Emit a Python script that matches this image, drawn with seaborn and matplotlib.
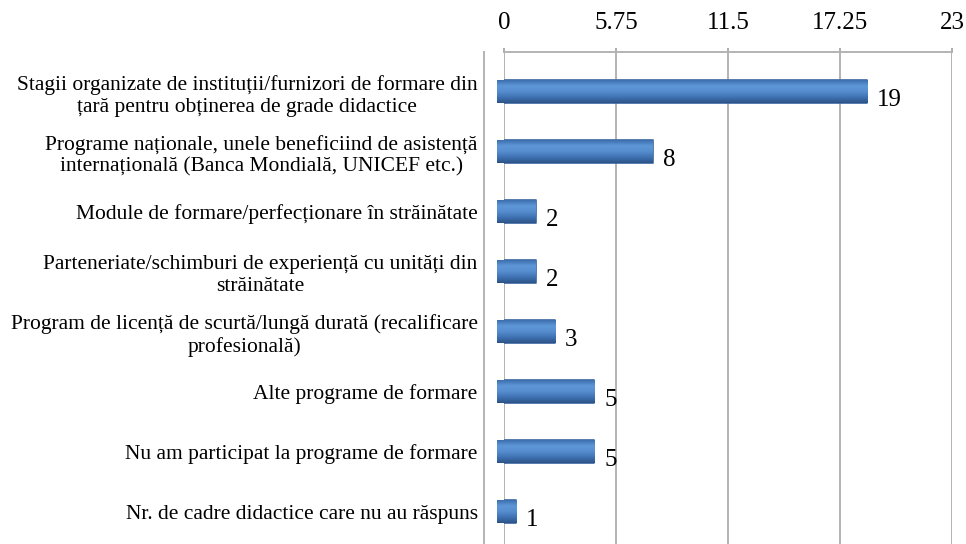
import pandas as pd
import seaborn as sns
import matplotlib.pyplot as plt
import matplotlib.transforms as mtransforms
from matplotlib.colors import LinearSegmentedColormap
import numpy as np

# Chart data
categories = [
    "Stagii organizate de instituții/furnizori de formare din\nțară pentru obținerea de grade didactice",
    "Programe naționale, unele beneficiind de asistență\ninternațională (Banca Mondială, UNICEF etc.)",
    "Module de formare/perfecționare în străinătate",
    "Parteneriate/schimburi de experiență cu unități din\nstrăinătate",
    "Program de licență de scurtă/lungă durată (recalificare\nprofesională)",
    "Alte programe de formare",
    "Nu am participat la programe de formare",
    "Nr. de cadre didactice care nu au răspuns",
]
values = [19, 8, 2, 2, 3, 5, 5, 1]
x_ticks = [0, 5.75, 11.5, 17.25, 23]
x_tick_labels = ["0", "5.75", "11.5", "17.25", "23"]

df = pd.DataFrame({"category": categories, "value": values})

sns.set_style("white")
plt.rcParams['font.family'] = ['Liberation Serif', 'DejaVu Serif']
plt.rcParams['text.color'] = 'black'
plt.rcParams['xtick.color'] = 'black'
plt.rcParams['ytick.color'] = 'black'

fig = plt.figure(figsize=(9.66, 5.44), dpi=100)
ax = fig.add_axes([0.5217, 0.0, 0.4638, 0.904])

sns.barplot(data=df, x="value", y="category", orient="h", ax=ax,
            color="#4a7ebb", edgecolor="#3a659e", linewidth=1.2, width=0.38,
            saturation=1)

# cylinder-like shading, bars pushed slightly to the front (left) like the 3D original
shade = LinearSegmentedColormap.from_list(
    "cyl", ["#3d6fae", "#5e97d8", "#558dcf", "#3f72b2", "#2c5488"])
grad = np.linspace(0, 1, 64).reshape(-1, 1)
front = mtransforms.ScaledTranslation(-7 / 100, 0, fig.dpi_scale_trans)
for p in list(ax.patches):
    p.set_joinstyle("round")
    p.set_transform(ax.transData + front)
    b = p.get_bbox()
    im = ax.imshow(grad, extent=[b.x0, b.x1, b.y1, b.y0], aspect="auto",
                   cmap=shade, interpolation="bilinear", zorder=p.get_zorder() + 0.1)
    im.set_transform(ax.transData + front)
    im.set_clip_path(p)

ax.set_aspect("auto")
ax.set_xlim(0, 23)
ax.set_ylim(7.54, -0.66)
ax.set_xticks(x_ticks)
ax.set_xticklabels(x_tick_labels)
ax.xaxis.tick_top()
ax.set_xlabel("")
ax.set_ylabel("")
ax.tick_params(axis="x", direction="out", length=3, color="#a6a6a6", width=1.3,
               pad=10, labelsize=18, labelcolor="black")

# vertical gridlines
ax.grid(axis="x", color="#b3b3b3", linewidth=1.4)
ax.set_axisbelow(True)

# left wall with ticks between categories
ax.set_yticks(range(len(categories)))
ax.set_yticks(np.arange(-0.5, len(categories), 1), minor=True)
ax.tick_params(axis="y", which="major", length=0, pad=4.5, labelsize=15.5, labelcolor="black")
ax.tick_params(axis="y", which="minor", length=4.3, color="#a6a6a6", width=1.3)
ax.spines["left"].set_position(("outward", 14.4))

for side in ["right", "bottom"]:
    ax.spines[side].set_visible(False)
for side in ["left", "top"]:
    ax.spines[side].set_color("#b3b3b3")
    ax.spines[side].set_linewidth(1.4)

anns = ax.bar_label(ax.containers[0], labels=[str(v) for v in values], padding=4,
                    fontsize=18, color="black")
for a in anns:
    a.xyann = (2, -6)

fig.canvas.draw()
for lab in ax.get_yticklabels():
    lab.set_multialignment("center")

plt.savefig("out.png", dpi=100)
